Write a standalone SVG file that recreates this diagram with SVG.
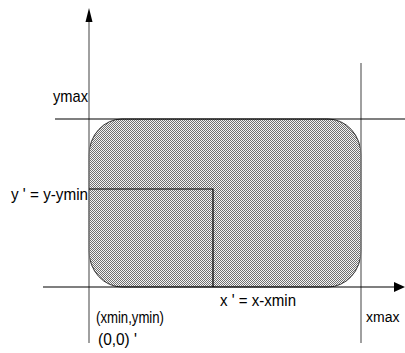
<svg xmlns="http://www.w3.org/2000/svg" width="405" height="353" viewBox="0 0 405 353">
<defs>
<style>
text{font-family:"Liberation Sans",Arial,sans-serif;font-size:17px;fill:#000}
.ax{stroke:#808080;stroke-width:1.5;fill:none}
.ln{stroke:#000;stroke-width:1.2;fill:none}
</style>
<pattern id="chk" width="2" height="2" patternUnits="userSpaceOnUse">
<rect width="2" height="2" fill="#f4f4f4"/>
<rect width="1" height="1" fill="#707070"/>
<rect x="1" y="1" width="1" height="1" fill="#707070"/>
</pattern>
</defs>
<g id="region">
<rect x="89" y="119" width="272" height="168" rx="33" ry="36" fill="url(#chk)" stroke="#333" stroke-width="1"/>
</g>
<g id="connectors">
<line class="ax" x1="89" y1="20" x2="89" y2="343"/>
<polygon points="89,8 85.5,22 92.5,22" fill="#000"/>
<line class="ax" x1="361" y1="63" x2="361" y2="343"/>
<line class="ln" x1="55" y1="119" x2="405" y2="119"/>
<line class="ln" x1="43" y1="287" x2="396" y2="287"/>
<polygon points="405,287 394,282 394,292" fill="#000"/>
<polyline class="ln" points="89,189 213,189 213,287"/>
</g>
<g id="labels">
<text x="53" y="102" textLength="35" lengthAdjust="spacingAndGlyphs">ymax</text>
<text x="11" y="200" textLength="77" lengthAdjust="spacingAndGlyphs">y ' = y-ymin</text>
<text x="96" y="323" textLength="68" lengthAdjust="spacingAndGlyphs">(xmin,ymin)</text>
<text x="98" y="345" textLength="39" lengthAdjust="spacingAndGlyphs">(0,0) '</text>
<text x="220" y="306" textLength="76" lengthAdjust="spacingAndGlyphs">x ' = x-xmin</text>
<text x="366" y="322" style="font-size:14px">xmax</text>
</g>
</svg>
